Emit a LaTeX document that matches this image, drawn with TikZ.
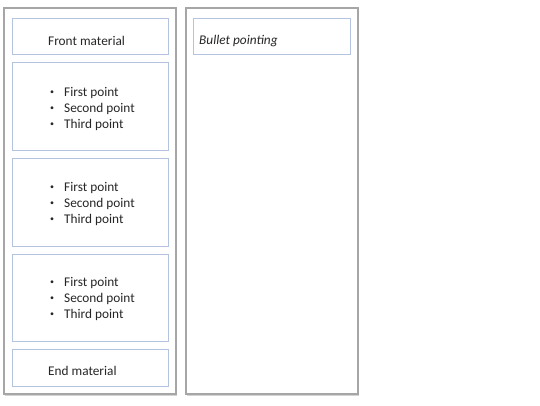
\documentclass[tikz,border=0pt]{standalone}
\usepackage{fontspec}
\setmainfont{Carlito}
\usetikzlibrary{shadows}
\definecolor{boxblue}{HTML}{B4C4E0}
\tikzset{
  panel/.style={rectangle,draw=gray!70,line width=1.3pt,fill=white,
    minimum width=172pt,minimum height=386pt,
    drop shadow={opacity=0.35,shadow xshift=1.2pt,shadow yshift=-1.6pt}},
  box/.style={rectangle,draw=boxblue,line width=0.8pt,minimum width=156pt},
  txt/.style={font=\fontsize{13.3}{16}\selectfont,text=black!85,inner sep=0pt},
}
\newcommand{\pbul}{\makebox[14pt][l]{\raisebox{1.4pt}{\scalebox{0.6}{\textbullet}}}}
\newcommand{\pointlist}{\pbul First point\\
  \pbul Second point\\
  \pbul Third point}
\begin{document}
\begin{tikzpicture}
[x=1pt,y=-1pt]
   \useasboundingbox (0,0) rectangle (540,405);
   \node[panel] (left)  at (90,201) {};
   \node[panel] (right) at (272,201) {};
   % left column
   \node[box,minimum height=36pt] (front) at (90,36) {};
   \node[box,minimum height=88pt] (pts1) at (90,106) {};
   \node[box,minimum height=88pt] (pts2) at (90,202) {};
   \node[box,minimum height=87pt] (pts3) at (90,297.5) {};
   \node[box,minimum height=37pt] (endm) at (90,367.5) {};
   \node[txt,anchor=west] (tfront) at (48,41) {Front material};
   \node[txt,anchor=west,align=left] (t1) at (50,108.5) {\pointlist};
   \node[txt,anchor=west,align=left] (t2) at (50,203.5) {\pointlist};
   \node[txt,anchor=west,align=left] (t3) at (50,298.5) {\pointlist};
   \node[txt,anchor=west] (tend) at (48,371) {End material};
   % right column
   \node[box,minimum width=157pt,minimum height=36pt] (bullet) at (271.5,36) {};
   \node[txt,anchor=west,font=\fontsize{13.3}{16}\selectfont\itshape] (tbullet) at (199,41) {Bullet pointing};
\end{tikzpicture}
\end{document}
